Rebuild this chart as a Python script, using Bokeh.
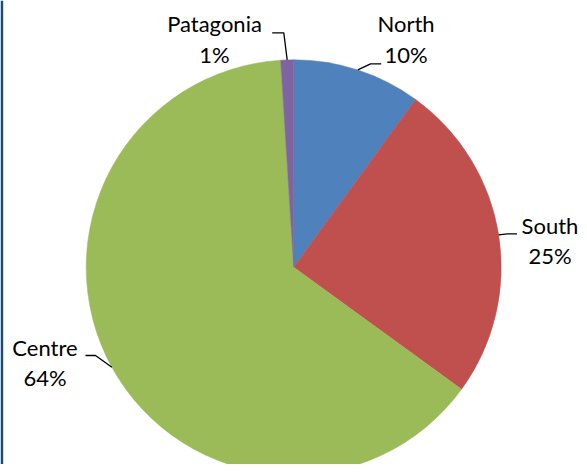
import math
from bokeh.plotting import figure
from bokeh.models import Range1d, ColumnDataSource
from bokeh.core.properties import value
from bokeh.embed import file_html
from bokeh.resources import INLINE

# ---- data ----
regions = ["North", "South", "Centre", "Patagonia"]
shares = [10, 25, 64, 1]
colors = ["#4F81BD", "#C0504D", "#9BBB59", "#8064A2"]

# ---- layout (pixel coordinates of the reference) ----
W, H = 579, 464
PIE_CX, PIE_CY, R = 293.2, 266.8, 207.5
TEXT_SHIFT = 9.0  # svg baseline correction
# label centre x, first-line baseline, second-line baseline
label_x = [405.5, 549.5, 44.5, 214.0]
label_b1 = [32.3, 234.3, 356.0, 32.3]
label_b2 = [63.3, 264.3, 386.0, 63.3]
# leader elbow and end points
elbow = [(370, 63.3), (507, 233.3), (95, 355), (283.3, 32.3)]
lend = [(380.7, 63.3), (516.5, 233.3), (85, 355), (271.7, 32.3)]


def dx(x):
    return x - PIE_CX


def dy(y):
    return PIE_CY - y


p = figure(width=W, height=H,
           x_range=Range1d(-PIE_CX, W - PIE_CX),
           y_range=Range1d(PIE_CY - H, PIE_CY),
           output_backend="svg", toolbar_location=None, min_border=0)
p.outline_line_color = None
p.axis.visible = False
p.grid.visible = False
p.background_fill_color = "white"
p.border_fill_color = "white"

# dark frame edge on the left
p.quad(left=dx(0), right=dx(2.7), bottom=dy(H), top=dy(0),
       fill_color="#1B4A78", line_color=None)

total = sum(shares)
starts, ends, mids = [], [], []
cum = 0.0
for s in shares:
    a0 = math.pi / 2 - 2 * math.pi * cum / total
    cum += s
    a1 = math.pi / 2 - 2 * math.pi * cum / total
    starts.append(a0)
    ends.append(a1)
    mids.append((a0 + a1) / 2)

src = ColumnDataSource(dict(start=starts, end=ends, color=colors))
p.wedge(x=0, y=0, radius=R, start_angle="start", end_angle="end",
        direction="clock", fill_color="color", line_color="color",
        line_width=0.5, source=src)

# leader lines
xs, ys = [], []
for m, e, t in zip(mids, elbow, lend):
    xs.append([R * math.cos(m), dx(e[0]), dx(t[0])])
    ys.append([R * math.sin(m), dy(e[1]), dy(t[1])])
p.multi_line(xs=xs, ys=ys, line_color="black", line_width=1.3)

# labels
p.text(x=[dx(v) for v in label_x], y=[dy(v - TEXT_SHIFT) for v in label_b1],
       text=regions,
       text_font=value("Lato"), text_font_size="22px", text_color="black",
       text_align="center", text_baseline="alphabetic")
p.text(x=[dx(v) for v in label_x], y=[dy(v - TEXT_SHIFT) for v in label_b2],
       text=[f"{s}%" for s in shares],
       text_font=value("Lato"), text_font_size="22px", text_color="black",
       text_align="center", text_baseline="alphabetic")

open("out.html", "w").write(file_html(p, INLINE))
